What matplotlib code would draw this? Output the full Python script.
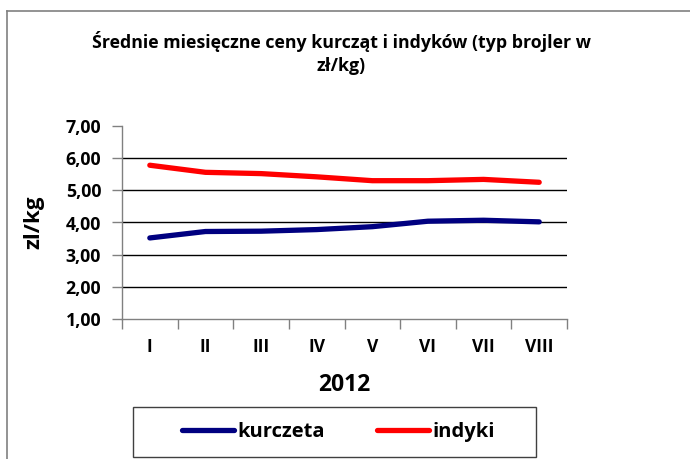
import matplotlib
matplotlib.use('Agg')
import matplotlib.pyplot as plt
from matplotlib.lines import Line2D
from matplotlib.patches import Rectangle

plt.rcParams['font.family'] = ['Open Sans', 'DejaVu Sans']
plt.rcParams['font.weight'] = 'bold'

# data
months = ['I', 'II', 'III', 'IV', 'V', 'VI', 'VII', 'VIII']
kurczeta = [3.52, 3.72, 3.73, 3.78, 3.87, 4.04, 4.07, 4.02]
indyki = [5.78, 5.56, 5.52, 5.42, 5.30, 5.30, 5.34, 5.25]
y_ticks = [1, 2, 3, 4, 5, 6, 7]

W, H = 690, 459
fig = plt.figure(figsize=(W / 100, H / 100), dpi=100)
ax = fig.add_axes([122 / W, 1 - 319 / H, (567 - 122) / W, (319 - 126) / H])

x = list(range(len(months)))
ax.plot(x, kurczeta, color='#000080', lw=3.8, solid_capstyle='round', solid_joinstyle='round', zorder=3)
ax.plot(x, indyki, color='#ff0000', lw=3.8, solid_capstyle='round', solid_joinstyle='round', zorder=3)

ax.set_xlim(-0.5, len(months) - 0.5)
ax.set_ylim(1, 7)
ax.set_yticks(y_ticks)
ax.set_yticklabels(['{:.2f}'.format(v).replace('.', ',') for v in y_ticks], fontsize=12.8, fontweight='bold')
ax.set_xticks([i - 0.5 for i in range(len(months) + 1)])
ax.set_xticklabels([])
ax.set_xticks(x, minor=True)
ax.set_xticklabels(months, minor=True, fontsize=12.5, fontweight='bold')
ax.tick_params(axis='x', which='minor', length=0, pad=14)
ax.tick_params(axis='x', which='major', length=7, width=1, color='#808080')
ax.tick_params(axis='y', length=7, width=1, color='#808080', pad=8)

for v in y_ticks[1:-1]:
    ax.axhline(v, color='black', lw=1, zorder=1)

for s in ['top', 'right']:
    ax.spines[s].set_visible(False)
for s in ['left', 'bottom']:
    ax.spines[s].set_color('#808080')
    ax.spines[s].set_linewidth(1)

ax.set_xlabel('2012', fontsize=16.5, fontweight='bold', labelpad=12)
ax.set_ylabel('zl/kg', fontsize=16, fontweight='bold')
ax.yaxis.set_label_coords(-(122 - 44) / (567 - 122), 0.5)

fig.text(341 / W, 1 - 42 / H, 'Średnie miesięczne ceny kurcząt i indyków (typ brojler w',
         ha='center', va='center', fontsize=12.8, fontweight='bold')
fig.text(341 / W, 1 - 66 / H, 'zł/kg)', ha='center', va='center', fontsize=12.8, fontweight='bold')

# outer chart frame (only top/left visible)
fig.add_artist(Line2D([7 / W, 7 / W], [0, 1 - 11 / H], color='#808080', lw=1.2))
fig.add_artist(Line2D([7 / W, 1], [1 - 11 / H, 1 - 11 / H], color='#808080', lw=1.2))

# legend box
fig.add_artist(Rectangle((133 / W, 1 - 457 / H), (536 - 133) / W, 50 / H,
                         transform=fig.transFigure, fill=False, edgecolor='#404040', lw=1))

handles = [Line2D([], [], color='#000080', lw=3.8, solid_capstyle='round'),
           Line2D([], [], color='#ff0000', lw=3.8, solid_capstyle='round')]
leg = fig.legend(handles, ['kurczeta', 'indyki'], loc='center',
                 bbox_to_anchor=(338 / W, 1 - 432 / H), ncol=2, frameon=False,
                 prop={'weight': 'bold', 'size': 14.5},
                 handlelength=2.6, handletextpad=0.15, columnspacing=2.6,
                 borderpad=0, borderaxespad=0)

fig.savefig('out.png', dpi=100)
